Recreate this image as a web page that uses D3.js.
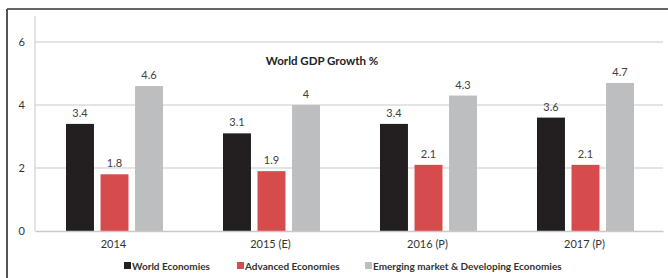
<!DOCTYPE html>
<meta charset="utf-8">
<style>
  body { margin: 0; background: #fff; }
  svg { display: block; font-family: Lato, "Open Sans", sans-serif; }
  .grid line { stroke: #c9c9c9; }
  .val { fill: #404040; font-size: 11px; }
</style>
<body></body>
<script src="https://cdn.jsdelivr.net/npm/d3@7"></script>
<script>

var years = ["2014", "2015 (E)", "2016 (P)", "2017 (P)"];
var seriesNames = ["World Economies", "Advanced Economies", "Emerging market & Developing Economies"];
var world = [3.4, 3.1, 3.4, 3.6];
var advanced = [1.8, 1.9, 2.1, 2.1];
var emerging = [4.6, 4, 4.3, 4.7];
var yTicks = [0, 2, 4, 6];
var colors = ["#231f20", "#d64b4b", "#bcbec0"];

var W = 668, H = 278;
var plotL = 35, plotR = 663, plotT = 42, plotB = 231;

var svg = d3.select("body").append("svg")
    .attr("width", W)
    .attr("height", H);

// frame (top + left only visible)
svg.append("line").attr("x1", 7).attr("x2", W).attr("y1", 9).attr("y2", 9)
    .attr("stroke", "#333").attr("stroke-width", 1.5);
svg.append("line").attr("x1", 7).attr("x2", 7).attr("y1", 9).attr("y2", H)
    .attr("stroke", "#555").attr("stroke-width", 2);

var x = d3.scaleBand().domain(years).range([plotL, plotR]);
var xs = d3.scaleBand().domain([0, 1, 2]).range([31, 128]).paddingInner(0.19);
var y = d3.scaleLinear().domain([0, 6]).range([plotB, plotT]);

// gridlines
svg.append("g").attr("class", "grid")
  .selectAll("line").data(yTicks.filter(function(d) { return d > 0; }))
  .enter().append("line")
    .attr("x1", plotL).attr("x2", plotR)
    .attr("y1", function(d) { return y(d); })
    .attr("y2", function(d) { return y(d); });

// y axis line
svg.append("line").attr("x1", plotL).attr("x2", plotL).attr("y1", 16).attr("y2", plotB)
    .attr("stroke", "#c9c9c9");

var yaxis = d3.axisLeft(y).tickValues(yTicks).tickFormat(d3.format("d")).tickSize(0).tickPadding(10);
var ya = svg.append("g").attr("transform", "translate(" + plotL + ",0)").call(yaxis);
ya.select(".domain").remove();
ya.selectAll("text").attr("font-size", 11).attr("fill", "#333").attr("font-family", "Lato, sans-serif");

var series = [world, advanced, emerging];
var rows = [];
series.forEach(function(s, si) {
  s.forEach(function(v, i) { rows.push({ cat: years[i], s: si, v: v }); });
});

svg.selectAll("rect.bar").data(rows).enter().append("rect")
    .attr("class", "bar")
    .attr("x", function(d) { return x(d.cat) + xs(d.s); })
    .attr("y", function(d) { return y(d.v); })
    .attr("width", xs.bandwidth())
    .attr("height", function(d) { return plotB - y(d.v); })
    .attr("fill", function(d) { return colors[d.s]; });

svg.selectAll("text.val").data(rows).enter().append("text")
    .attr("class", "val")
    .attr("text-anchor", "middle")
    .attr("x", function(d) { return x(d.cat) + xs(d.s) + xs.bandwidth() / 2; })
    .attr("y", function(d) { return y(d.v) - 7; })
    .text(function(d) { return d.v; });

// x axis
var xaxis = d3.axisBottom(x).tickSize(0).tickPadding(9);
var xa = svg.append("g").attr("transform", "translate(0," + plotB + ")").call(xaxis);
xa.select(".domain").attr("stroke", "#c9c9c9").attr("stroke-width", 1.5);
xa.selectAll("text").attr("font-size", 11).attr("fill", "#333").attr("font-family", "Lato, sans-serif");

// title
svg.append("text")
    .attr("x", 322).attr("y", 65)
    .attr("text-anchor", "middle")
    .attr("font-weight", "bold")
    .attr("font-size", 11.5)
    .attr("fill", "#222")
    .text("World GDP Growth %");

// legend
var legX = [124, 237, 365];
var leg = svg.selectAll("g.leg").data(seriesNames).enter().append("g")
    .attr("class", "leg")
    .attr("transform", function(d, i) { return "translate(" + legX[i] + ",262)"; });
leg.append("rect").attr("width", 7).attr("height", 7)
    .attr("fill", function(d, i) { return colors[i]; });
leg.append("text").attr("x", 8).attr("y", 7.5)
    .attr("font-size", 10).attr("font-weight", "bold").attr("fill", "#333")
    .text(function(d) { return d; });

</script>
